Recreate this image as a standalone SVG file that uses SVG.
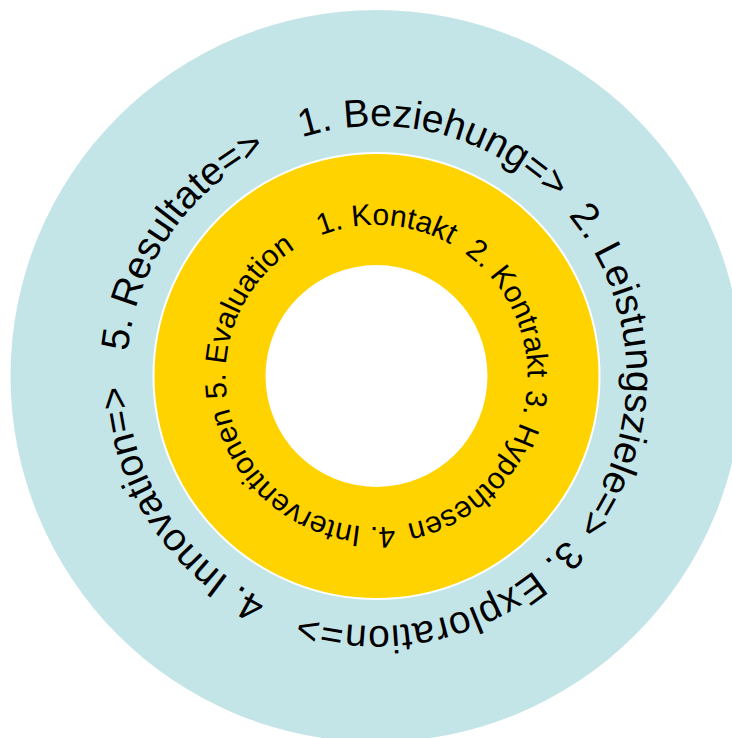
<svg xmlns="http://www.w3.org/2000/svg" xmlns:xlink="http://www.w3.org/1999/xlink" width="732" height="738" viewBox="0 0 732 738">
  <style>
    .outer { font-family: "Liberation Sans", Arial, sans-serif; font-size: 39px; fill: #000000; }
    .inner { font-family: "Liberation Sans", Arial, sans-serif; font-size: 30px; fill: #000000; }
  </style>
  <defs>
    <path id="pOuter" d="M 376.5,126 A 250 250 0 1 1 376.5,626 A 250 250 0 1 1 376.5,126 A 250 250 0 1 1 376.5,626 A 250 250 0 1 1 376.5,126" fill="none"/>
    <path id="pInner" d="M 376.5,225 A 151 151 0 1 1 376.5,527 A 151 151 0 1 1 376.5,225 A 151 151 0 1 1 376.5,527 A 151 151 0 1 1 376.5,225" fill="none"/>
  </defs>
  <rect x="0" y="0" width="732" height="738" fill="#ffffff"/>
  <g id="outer-ring">
    <circle cx="376.5" cy="376" r="366" fill="#C4E5E8"/>
    <text class="outer"><textPath xlink:href="#pOuter" startOffset="1494.4">1. Beziehung=&gt;</textPath></text>
    <text class="outer"><textPath xlink:href="#pOuter" startOffset="218.2">2. Leistungsziele=&gt;</textPath></text>
    <text class="outer" letter-spacing="0.6"><textPath xlink:href="#pOuter" startOffset="569.4">3. Exploration=&gt;</textPath></text>
    <text class="outer"><textPath xlink:href="#pOuter" startOffset="898.8">4. Innovation=&gt;</textPath></text>
    <text class="outer"><textPath xlink:href="#pOuter" startOffset="1202.1">5. Resultate=&gt;</textPath></text>
  </g>
  <g id="inner-ring">
    <circle cx="376.5" cy="376" r="223" fill="#FFD300" stroke="#ffffff" stroke-width="2"/>
    <text class="inner"><textPath xlink:href="#pInner" startOffset="890.8">1. Kontakt</textPath></text>
    <text class="inner"><textPath xlink:href="#pInner" startOffset="93.5">2. Kontrakt</textPath></text>
    <text class="inner"><textPath xlink:href="#pInner" startOffset="250.4">3. Hypothesen</textPath></text>
    <text class="inner"><textPath xlink:href="#pInner" startOffset="455.9">4. Interventionen</textPath></text>
    <text class="inner"><textPath xlink:href="#pInner" startOffset="689.2">5. Evaluation</textPath></text>
  </g>
  <g id="center">
    <circle cx="376.5" cy="376" r="111" fill="#ffffff"/>
  </g>
</svg>
